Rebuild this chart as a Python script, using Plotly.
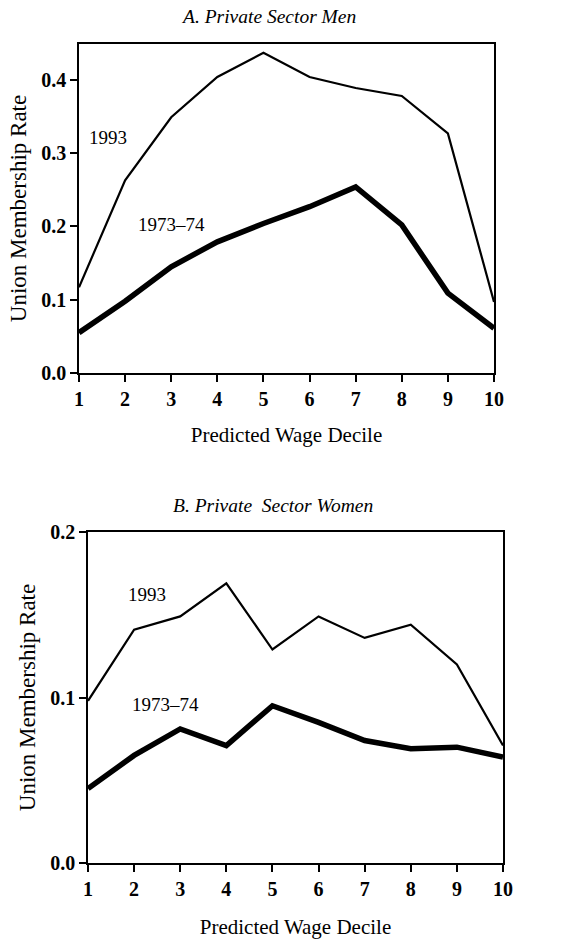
import plotly.graph_objects as go

deciles = [1, 2, 3, 4, 5, 6, 7, 8, 9, 10]
men_1993 = [0.117, 0.263, 0.349, 0.404, 0.437, 0.404, 0.389, 0.378, 0.327, 0.097]
men_1973 = [0.055, 0.098, 0.145, 0.179, 0.204, 0.227, 0.254, 0.202, 0.109, 0.061]
women_1993 = [0.098, 0.141, 0.149, 0.169, 0.129, 0.149, 0.136, 0.144, 0.120, 0.071]
women_1973 = [0.045, 0.065, 0.081, 0.071, 0.095, 0.085, 0.074, 0.069, 0.070, 0.064]
men_yticks = [0.0, 0.1, 0.2, 0.3, 0.4]
women_yticks = [0.0, 0.1, 0.2]

W, H = 574, 939
FONT = "Liberation Serif"

fig = go.Figure()
fig.add_trace(go.Scatter(x=deciles, y=men_1993, mode="lines", line=dict(color="black", width=2.2),
                         xaxis="x", yaxis="y", showlegend=False))
fig.add_trace(go.Scatter(x=deciles, y=men_1973, mode="lines", line=dict(color="black", width=5.5),
                         xaxis="x", yaxis="y", showlegend=False))
fig.add_trace(go.Scatter(x=deciles, y=women_1993, mode="lines", line=dict(color="black", width=2.2),
                         xaxis="x2", yaxis="y2", showlegend=False))
fig.add_trace(go.Scatter(x=deciles, y=women_1973, mode="lines", line=dict(color="black", width=5.5),
                         xaxis="x2", yaxis="y2", showlegend=False))

axis_common = dict(showline=True, linecolor="black", linewidth=1.6, mirror=True, showgrid=False,
                   zeroline=False, ticks="outside", tickcolor="black", tickwidth=1.6, ticklen=7,
                   tickfont=dict(family=FONT, size=20, color="black", weight="bold"))
title_font_ax = dict(family=FONT, size=21, color="black")
ytitle_font = dict(family=FONT, size=23, color="black")

fig.update_layout(
    width=W, height=H, margin=dict(l=0, r=0, t=0, b=0, autoexpand=False),
    paper_bgcolor="white", plot_bgcolor="white",
    font=dict(family=FONT, color="black"),
    xaxis=dict(domain=[79 / W, 494 / W], range=[1, 10], tickvals=deciles, anchor="y",
               title=dict(text="Predicted Wage Decile", font=title_font_ax, standoff=19),
               **axis_common),
    yaxis=dict(domain=[1 - 373 / H, 1 - 44 / H], range=[0, 0.449], tickvals=men_yticks,
               tickformat=".1f", anchor="x",
               title=dict(text="Union Membership Rate", font=ytitle_font, standoff=8),
               **axis_common),
    xaxis2=dict(domain=[88 / W, 503 / W], range=[1, 10], tickvals=deciles, anchor="y2",
                title=dict(text="Predicted Wage Decile", font=title_font_ax, standoff=21),
                **axis_common),
    yaxis2=dict(domain=[1 - 863 / H, 1 - 532 / H], range=[0, 0.2], tickvals=women_yticks,
                tickformat=".1f", anchor="x2",
                title=dict(text="Union Membership Rate", font=ytitle_font, standoff=8),
                **axis_common),
)

ann_font = dict(family=FONT, size=19, color="black")
fig.add_annotation(text="1993", x=1.63, y=0.322, xref="x", yref="y", showarrow=False, font=ann_font)
fig.add_annotation(text="1973–74", x=3.01, y=0.202, xref="x", yref="y", showarrow=False, font=ann_font)
fig.add_annotation(text="1993", x=2.28, y=0.162, xref="x2", yref="y2", showarrow=False, font=ann_font)
fig.add_annotation(text="1973–74", x=2.69, y=0.096, xref="x2", yref="y2", showarrow=False, font=ann_font)

title_font = dict(family=FONT, size=19.5, color="black")
fig.add_annotation(text="<i>A. Private Sector Men</i>", x=268 / W, y=1 - 17 / H, xref="paper", yref="paper",
                   xanchor="center", yanchor="middle", showarrow=False, font=title_font)
fig.add_annotation(text="<i>B. Private  Sector Women</i>", x=273 / W, y=1 - 505 / H, xref="paper",
                   yref="paper", xanchor="center", yanchor="middle", showarrow=False, font=title_font)

fig.write_html("out.html", config={"displayModeBar": False},
               post_script="document.body.style.margin='0';document.body.style.overflow='hidden';")
